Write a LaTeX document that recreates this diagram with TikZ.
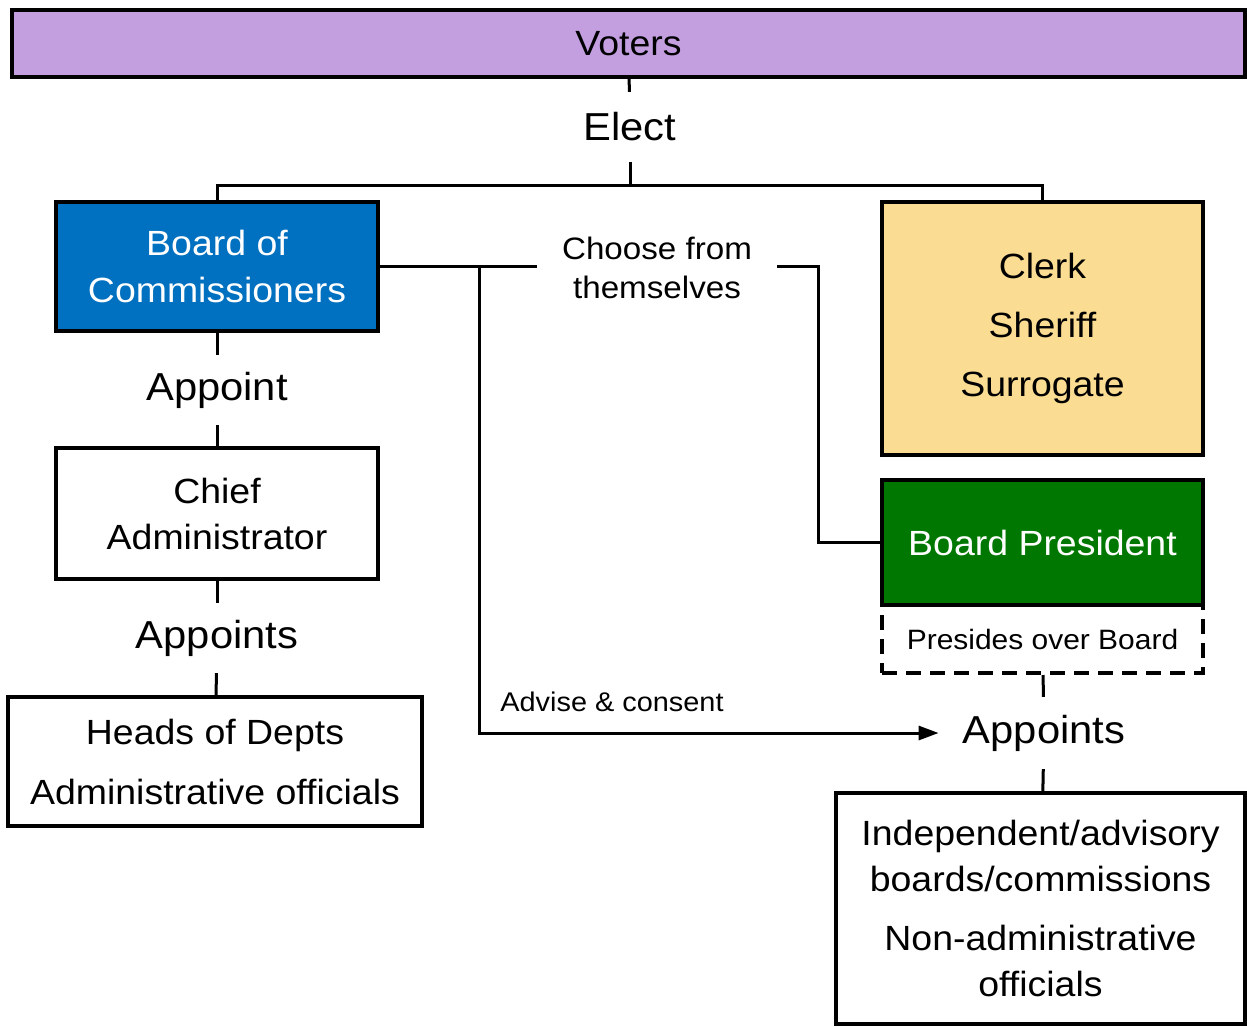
\documentclass[tikz,border=0pt]{standalone}
\usepackage{fontspec}
\setmainfont[FakeStretch=1.07]{Liberation Sans}
\usetikzlibrary{arrows.meta}

\definecolor{voterpurple}{RGB}{195,159,224}
\definecolor{boardblue}{RGB}{0,112,192}
\definecolor{electyellow}{RGB}{250,220,146}
\definecolor{presgreen}{RGB}{0,119,0}

\begin{document}
\begin{tikzpicture}[x=1pt,y=-1pt,
		box/.style = {draw, line width=4pt, align=center, inner sep=0pt},
		verb/.style = {minimum height=70pt, inner xsep=24pt, inner ysep=0pt, font=\fontsize{39}{44}\selectfont},
		link/.style = {line width=3pt}]
	\useasboundingbox (0,0) rectangle (1247,1026);

	% top of the chart
	\node[box, fill=voterpurple, minimum width=1233, minimum height=67, font=\fontsize{35}{42}\selectfont] (voters) at (628.5,43.5) {Voters};
	\node[verb] (elect) at (630,127) {Elect};
	\coordinate (fork) at (630,185);

	% left column
	\node[box, fill=boardblue, text=white, minimum width=322, minimum height=129, font=\fontsize{35}{47}\selectfont] (board) at (217,266.5) {Board of\\Commissioners};
	\node[verb] (appoint) at (217,390) {Appoint};
	\node[box, minimum width=322, minimum height=131, font=\fontsize{35}{46}\selectfont] (chief) at (217,513.5) {Chief\\Administrator};
	\node[verb] (appointsL) at (217,638) {Appoints};
	\node[box, minimum width=414, minimum height=129, font=\fontsize{35}{60}\selectfont] (heads) at (215,761.5) {Heads of Depts\\Administrative officials};

	% right column
	\node[box, fill=electyellow, minimum width=321, minimum height=253, font=\fontsize{35}{59}\selectfont] (clerk) at (1042.5,328.5) {Clerk\\Sheriff\\Surrogate};
	\node[box, fill=presgreen, text=white, minimum width=321, minimum height=125, font=\fontsize{35}{42}\selectfont] (president) at (1042.5,542.5) {Board President};
	\node[box, dash pattern=on 15pt off 9pt, minimum width=321, minimum height=68, font=\fontsize{28}{34}\selectfont] (presides) at (1042.5,639) {Presides over Board};
	\node[verb, minimum height=72pt] (appointsR) at (1044,733) {Appoints};
	\node[box, minimum width=409, minimum height=231, font=\fontsize{35}{46}\selectfont] (boards) at (1040.5,908.5) {Independent/advisory\\boards/commissions\\[13pt]Non-administrative\\officials};

	% middle
	\node[minimum width=240, inner sep=0pt, align=center, font=\fontsize{31}{39}\selectfont] (choose) at (657,268) {Choose from\\themselves};
	\node[font=\fontsize{27}{32}\selectfont] (advise) at (612,702) {Advise \& consent};
	\coordinate (split) at (479,266.5);
	\coordinate (bend) at (818,266.5);

	% connectors
	\draw[link] (voters) -- (elect);
	\draw[link] (elect) -- (fork);
	\draw[link] (board.north) -- (board.north |- fork) -- (clerk.north |- fork) -- (clerk.north);
	\draw[link] (board) -- (appoint);
	\draw[link] (appoint) -- (chief);
	\draw[link] (chief) -- (appointsL);
	\draw[link] (appointsL) -- (heads);
	\draw[link] (board.east) -- (board.east -| choose.west);
	\draw[link] (choose.east |- bend) -- (bend) |- (president.west);
	\draw[link, -{Triangle[length=20pt,width=14pt]}] (split) |- (appointsR.west);
	\draw[link] (presides) -- (appointsR);
	\draw[link] (appointsR) -- (boards);
\end{tikzpicture}
\end{document}
